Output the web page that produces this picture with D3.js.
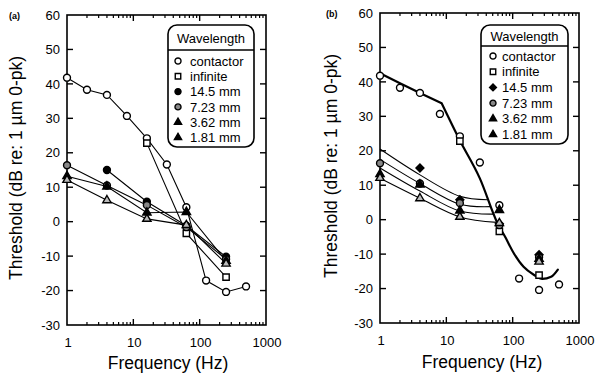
<!DOCTYPE html>
<html>
<head>
<meta charset="utf-8">
<script src="https://cdn.jsdelivr.net/npm/d3@7"></script>
<style>
  body { margin: 0; background: #fff; }
  text { font-family: "Liberation Sans", Arial, Helvetica, sans-serif; fill: #000; }
</style>
</head>
<body>
<div id="chart"></div>
<script>
// ---- values ----
const freqContactor = [1, 2, 4, 8, 16, 32, 63, 125, 250, 500];
const contactorDb = [41.8, 38.3, 36.8, 30.7, 24.2, 16.6, 4.2, -17.1, -20.4, -18.8];
const freqInfinite = [16, 63, 250];
const infiniteDb = [22.8, -3.4, -16.1];
const freqWave = [1, 4, 16, 63, 250];
const wave145Db = [null, 15.0, 5.8, -1.2, -10.2];
const wave723Db = [16.4, 10.5, 4.8, -1.6, -10.9];
const wave362Db = [13.2, 10.2, 2.6, 2.8, -11.4];
const wave181Db = [12.1, 6.2, 0.8, -1.0, -12.2];

// panel (b) fitted curves; the thick one has a corner at fitKnee
const fitFreq = [1, 2, 4, 8.5, 16, 32, 59, 78, 103, 146, 208, 280, 380, 480];
const fitDb = [42.5, 39.6, 36.8, 33.8, 23.0, 12.0, -1.0, -5.2, -9.6, -13.7, -16.0, -17.2, -16.6, -14.5];
const fitKnee = 3;
const thinFreq145 = [1, 4, 16, 42];
const thinDb145 = [20.5, 13.0, 6.8, 5.8];
const thinFreq723 = [1, 4, 16, 47];
const thinDb723 = [17.5, 10.5, 4.5, 3.8];
const thinFreq362 = [1, 4, 16, 52];
const thinDb362 = [15.0, 8.3, 2.5, 1.6];
const thinFreq181 = [1, 4, 16, 58];
const thinDb181 = [12.0, 6.2, 0.8, -0.8];

const yTicks = [60, 50, 40, 30, 20, 10, 0, -10, -20, -30];
const xTicks = [1, 10, 100, 1000];
const legendLabels = ['contactor', 'infinite', '14.5 mm', '7.23 mm', '3.62 mm', '1.81 mm'];

const series = [
    { name: 'contactor', freq: freqContactor, db: contactorDb },
    { name: 'infinite', freq: freqInfinite, db: infiniteDb },
    { name: '14.5 mm', freq: freqWave, db: wave145Db },
    { name: '7.23 mm', freq: freqWave, db: wave723Db },
    { name: '3.62 mm', freq: freqWave, db: wave362Db },
    { name: '1.81 mm', freq: freqWave, db: wave181Db }
];
const thinCurves = [
    { freq: thinFreq145, db: thinDb145 },
    { freq: thinFreq723, db: thinDb723 },
    { freq: thinFreq362, db: thinDb362 },
    { freq: thinFreq181, db: thinDb181 }
];

// marker look per series; panel b uses a diamond for 14.5 mm
function markerStyle(name, panel) {
    switch (name) {
        case 'contactor': return { type: d3.symbolCircle, size: 38, fill: '#fff' };
        case 'infinite': return { type: d3.symbolSquare, size: 40, fill: '#fff' };
        case '14.5 mm': return panel === 'b'
            ? { type: d3.symbolDiamond2, size: 40, fill: '#000' }
            : { type: d3.symbolCircle, size: 38, fill: '#000' };
        case '7.23 mm': return { type: d3.symbolCircle, size: 38, fill: '#888' };
        case '3.62 mm': return { type: d3.symbolTriangle, size: 30, fill: '#000' };
        default: return { type: d3.symbolTriangle, size: 30, fill: '#bbb' };
    }
}

const panels = [
    { id: 'a', left: 67, right: 266, top: 15, bottom: 325,
      tag: [9, 19], yTitle: [16, 168], xTitle: [168, 363],
      legend: { x: 168, y: 25, w: 86, h: 122, head: 25, row0: 36, step: 15.3, mx: 10, tx: 22 } },
    { id: 'b', left: 380, right: 579, top: 13, bottom: 323,
      tag: [326, 17], yTitle: [331, 166], xTitle: [482, 362],
      legend: { x: 481, y: 25, w: 87, h: 119, head: 21, row0: 31, step: 15.7, mx: 12, tx: 21 } }
];

const svg = d3.select('#chart').append('svg')
    .attr('width', 596)
    .attr('height', 374);

panels.forEach(p => {
    const x = d3.scaleLog().domain([1, 1000]).range([p.left, p.right]);
    const y = d3.scaleLinear().domain([-30, 60]).range([p.bottom, p.top]);
    const g = svg.append('g');

    // frame
    g.append('rect')
        .attr('x', p.left).attr('y', p.top)
        .attr('width', p.right - p.left).attr('height', p.bottom - p.top)
        .attr('fill', 'none').attr('stroke', '#000').attr('stroke-width', 1.6);

    // y axis ticks (inside, both sides) and labels
    const yAx = g.append('g');
    yTicks.forEach(t => {
        const yy = y(t);
        if (t !== 60 && t !== -30) {
            yAx.append('line').attr('x1', p.left).attr('x2', p.left + 6)
                .attr('y1', yy).attr('y2', yy).attr('stroke', '#000').attr('stroke-width', 1.4);
            yAx.append('line').attr('x1', p.right).attr('x2', p.right - 6)
                .attr('y1', yy).attr('y2', yy).attr('stroke', '#000').attr('stroke-width', 1.4);
        }
        yAx.append('text')
            .attr('x', p.left - 7).attr('y', yy).attr('dy', '0.36em')
            .attr('text-anchor', 'end').style('font-size', '13px')
            .text(t);
    });

    // x axis log ticks (inside, top and bottom)
    const minor = [];
    [1, 10, 100].forEach(d => { for (let k = 2; k <= 9; k++) minor.push(d * k); });
    const xAx = g.append('g');
    minor.forEach(f => {
        [[p.bottom, -3], [p.top, 3]].forEach(([base, len]) => {
            xAx.append('line').attr('x1', x(f)).attr('x2', x(f))
                .attr('y1', base).attr('y2', base + len)
                .attr('stroke', '#000').attr('stroke-width', 1.2);
        });
    });
    [10, 100].forEach(f => {
        [[p.bottom, -6], [p.top, 6]].forEach(([base, len]) => {
            xAx.append('line').attr('x1', x(f)).attr('x2', x(f))
                .attr('y1', base).attr('y2', base + len)
                .attr('stroke', '#000').attr('stroke-width', 1.4);
        });
    });
    xTicks.forEach(f => {
        xAx.append('text')
            .attr('x', x(f) + 1).attr('y', p.bottom + 22)
            .attr('text-anchor', 'middle').style('font-size', '13px')
            .text(f);
    });

    // titles
    g.append('text')
        .attr('transform', `translate(${p.yTitle[0]},${p.yTitle[1]}) rotate(-90)`)
        .attr('dy', '0.36em').attr('text-anchor', 'middle')
        .style('font-size', '17.5px')
        .text('Threshold (dB re: 1 µm 0-pk)');
    g.append('text')
        .attr('x', p.xTitle[0]).attr('y', p.xTitle[1]).attr('dy', '0.36em')
        .attr('text-anchor', 'middle').style('font-size', '17.5px')
        .text('Frequency (Hz)');
    g.append('text')
        .attr('x', p.tag[0]).attr('y', p.tag[1])
        .style('font-size', '9px').style('font-weight', 'bold')
        .text(`(${p.id})`);

    const plot = g.append('g');

    if (p.id === 'a') {
        // connected data lines
        const line = d3.line()
            .x(d => x(d[0])).y(d => y(d[1]));
        series.forEach(s => {
            const pts = s.freq.map((f, i) => [f, s.db[i]]).filter(d => d[1] != null);
            plot.append('path')
                .datum(pts)
                .attr('d', line)
                .attr('fill', 'none').attr('stroke', '#000').attr('stroke-width', 1.1);
        });
    } else {
        // fitted curves
        const thin = d3.line()
            .x(d => x(d[0])).y(d => y(d[1]))
            .curve(d3.curveCatmullRom.alpha(0.5));
        thinCurves.forEach(c => {
            plot.append('path')
                .datum(c.freq.map((f, i) => [f, c.db[i]]))
                .attr('d', thin)
                .attr('fill', 'none').attr('stroke', '#000').attr('stroke-width', 1.1);
        });
        const fitPts = fitFreq.map((f, i) => [f, fitDb[i]]);
        const straight = d3.line().x(d => x(d[0])).y(d => y(d[1]));
        const smooth = d3.line()
            .x(d => x(d[0])).y(d => y(d[1]))
            .curve(d3.curveMonotoneX);
        plot.append('path')
            .datum(fitPts.slice(0, fitKnee + 1))
            .attr('d', straight)
            .attr('fill', 'none').attr('stroke', '#000').attr('stroke-width', 2.2)
            .attr('stroke-linejoin', 'round');
        plot.append('path')
            .datum(fitPts.slice(fitKnee))
            .attr('d', smooth)
            .attr('fill', 'none').attr('stroke', '#000').attr('stroke-width', 2.2)
            .attr('stroke-linecap', 'round');
    }

    // markers
    series.forEach(s => {
        const st = markerStyle(s.name, p.id);
        const sym = d3.symbol().type(st.type).size(st.size);
        s.freq.forEach((f, i) => {
            if (s.db[i] == null) return;
            plot.append('path')
                .attr('d', sym)
                .attr('transform', `translate(${x(f)},${y(s.db[i])})`)
                .attr('fill', st.fill).attr('stroke', '#000').attr('stroke-width', 1.4);
        });
    });

    // legend
    const L = p.legend;
    const lg = g.append('g').attr('transform', `translate(${L.x},${L.y})`);
    lg.append('rect')
        .attr('width', L.w).attr('height', L.h).attr('rx', 9)
        .attr('fill', '#fff').attr('stroke', '#000').attr('stroke-width', 1.6);
    lg.append('line')
        .attr('x1', 0).attr('x2', L.w).attr('y1', L.head).attr('y2', L.head)
        .attr('stroke', '#000').attr('stroke-width', 1.4);
    lg.append('text')
        .attr('x', L.w / 2).attr('y', L.head / 2 + 1).attr('dy', '0.36em')
        .attr('text-anchor', 'middle').style('font-size', '13px')
        .text('Wavelength');
    legendLabels.forEach((name, i) => {
        const yy = L.row0 + i * L.step;
        const st = markerStyle(name, p.id);
        lg.append('path')
            .attr('d', d3.symbol().type(st.type).size(st.size * 0.75))
            .attr('transform', `translate(${L.mx},${yy})`)
            .attr('fill', st.fill === '#bbb' ? '#000' : st.fill)
            .attr('stroke', '#000').attr('stroke-width', 1.4);
        lg.append('text')
            .attr('x', L.tx).attr('y', yy).attr('dy', '0.36em')
            .style('font-size', '13px')
            .text(name);
    });
});
</script>
</body>
</html>
